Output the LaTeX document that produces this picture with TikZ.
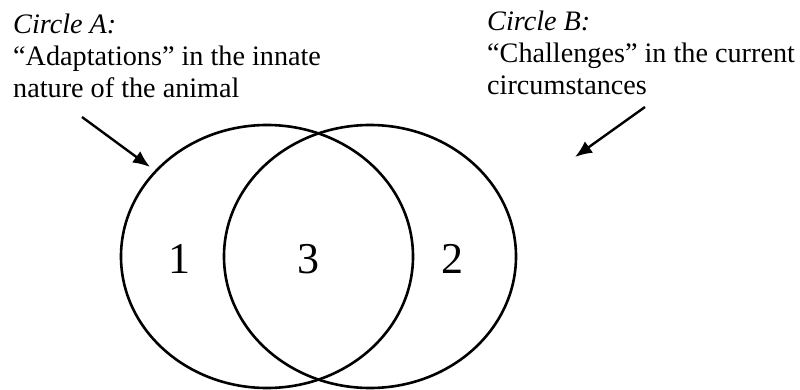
\documentclass[tikz,border=0pt]{standalone}
\usepackage{fontspec}
\setmainfont{Liberation Serif}
\usetikzlibrary{shapes.geometric,arrows.meta,positioning}

\tikzset{
  venn/.style={draw, ellipse, line width=2.6pt, minimum width=292pt, minimum height=263pt, inner sep=0pt},
  region/.style={font=\fontsize{44}{44}\selectfont, inner sep=0pt},
  caption/.style={align=left, anchor=base west, inner sep=0pt, font=\fontsize{28.2}{32}\selectfont},
  pointer/.style={line width=2.4pt, -{Latex[length=17pt,width=14pt]}}
}

\begin{document}
\begin{tikzpicture}[x=1pt, y=-1pt]
    \useasboundingbox (0,0) rectangle (800,390);

    % The two sets
    \node[venn] (circA) at (267,256.5) {};
    \node[venn] (circB) at (370,256.5) {};

    % Regions
    \node[region] (onlyA) at (179,259) {1};
    \node[region] (both)  at (308,259) {3};
    \node[region] (onlyB) at (452,259) {2};

    % Captions (anchored at the last baseline)
    \node[caption] (capA) at (13,98) {\textit{Circle A:}\\``Adaptations'' in the innate\\nature of the animal};
    \node[caption] (capB) at (487,95) {\textit{Circle B:}\\``Challenges'' in the current\\circumstances};

    % Pointers
    \coordinate (fromA) at (82,117);
    \coordinate (toA) at (150,167);
    \coordinate (fromB) at (645,107);
    \coordinate (toB) at (575,157);
    \draw[pointer] (fromA) -- (toA);
    \draw[pointer] (fromB) -- (toB);
\end{tikzpicture}
\end{document}
